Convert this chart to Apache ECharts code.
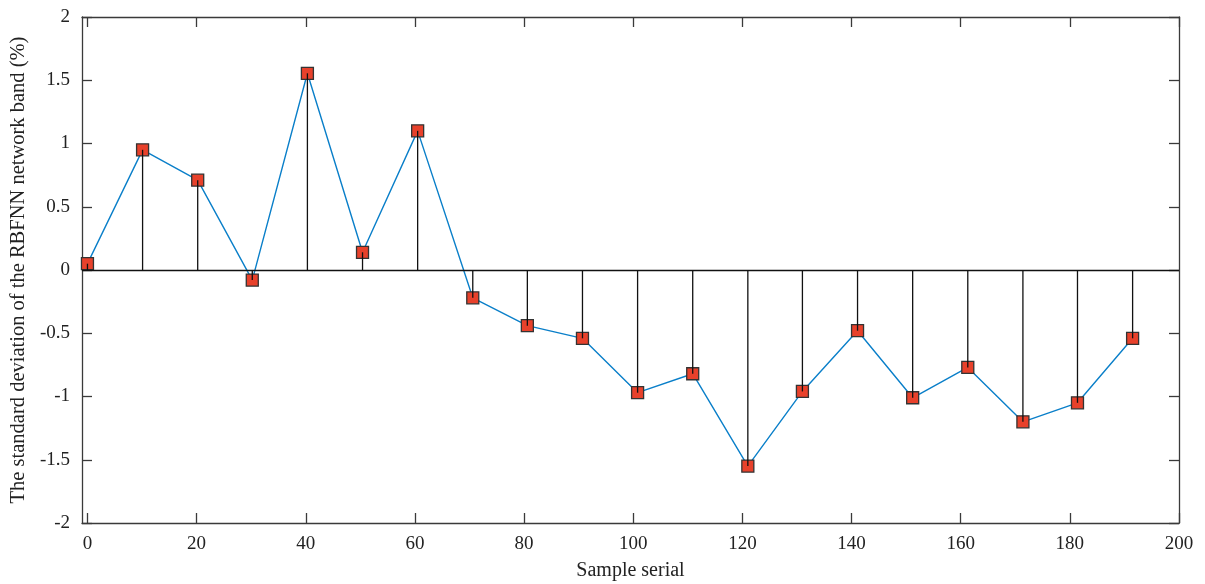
<!DOCTYPE html>
<html>
<head>
<meta charset="utf-8">
<script src="https://cdn.jsdelivr.net/npm/echarts@6/dist/echarts.min.js"></script>
<style>html,body{margin:0;padding:0;background:#fff;}#c{width:1205px;height:584px;}</style>
</head>
<body>
<div id="c"></div>
<script>
const sampleX = [0, 10.1, 20.2, 30.2, 40.3, 50.4, 60.5, 70.6, 80.6, 90.7, 100.8, 110.9, 121.0, 131.0, 141.1, 151.2, 161.3, 171.4, 181.4, 191.5];
const deviation = [0.05, 0.95, 0.71, -0.08, 1.555, 0.14, 1.10, -0.22, -0.44, -0.54, -0.97, -0.82, -1.55, -0.96, -0.48, -1.01, -0.77, -1.20, -1.05, -0.54];
const xTicks = [0, 20, 40, 60, 80, 100, 120, 140, 160, 180, 200];
const yTicks = [-2, -1.5, -1, -0.5, 0, 0.5, 1, 1.5, 2];

const pts = sampleX.map((x, i) => [x, deviation[i]]);
const font = '"Liberation Serif", "DejaVu Serif", serif';
const axisCol = '#3a3a3a';

const chart = echarts.init(document.getElementById('c'), null, {renderer: 'canvas'});
const xBase = {
  type: 'value', min: -1, max: 200,
  axisLine: {show: true, onZero: false, lineStyle: {color: axisCol, width: 1.3}},
  axisTick: {show: true, inside: true, length: 10, customValues: xTicks, lineStyle: {color: axisCol, width: 1.3}},
  splitLine: {show: false}
};
const yBase = {
  type: 'value', min: -2, max: 2, interval: 0.5,
  axisLine: {show: true, onZero: false, lineStyle: {color: axisCol, width: 1.3}},
  axisTick: {show: true, inside: true, length: 10, lineStyle: {color: axisCol, width: 1.3}},
  splitLine: {show: false}
};
chart.setOption({
  animation: false,
  backgroundColor: '#fff',
  grid: {left: 82, right: 26, top: 17, bottom: 61, containLabel: false, outerBoundsMode: 'none'},
  xAxis: [
    Object.assign({}, xBase, {
      position: 'bottom',
      name: 'Sample serial', nameLocation: 'middle', nameGap: 38,
      nameTextStyle: {fontFamily: font, fontSize: 20, color: '#222'},
      axisLabel: {show: true, customValues: xTicks, margin: 12, fontFamily: font, fontSize: 19, color: '#222'}
    }),
    Object.assign({}, xBase, {position: 'top', axisLabel: {show: false}})
  ],
  yAxis: [
    Object.assign({}, yBase, {
      position: 'left',
      name: 'The standard deviation of the RBFNN network band (%)', nameLocation: 'middle', nameGap: 50,
      nameTextStyle: {fontFamily: font, fontSize: 20.5, color: '#222'},
      axisLabel: {show: true, margin: 12, fontFamily: font, fontSize: 19, color: '#222',
        formatter: v => (v < 0 ? '-' + String(-v) : String(v))}
    }),
    Object.assign({}, yBase, {position: 'right', axisLabel: {show: false}})
  ],
  series: [
    {
      type: 'line', data: pts, xAxisIndex: 0, yAxisIndex: 0,
      lineStyle: {color: '#0a7fc9', width: 1.4},
      symbol: 'rect', symbolSize: 12,
      itemStyle: {color: '#e8412b', borderColor: '#333', borderWidth: 1.3},
      z: 2,
      markLine: {
        silent: true, symbol: 'none', label: {show: false},
        lineStyle: {color: '#111', width: 1.3, type: 'solid'},
        data: [{yAxis: 0}]
      }
    },
    {
      type: 'custom', data: pts, xAxisIndex: 0, yAxisIndex: 0, z: 3,
      renderItem: function (params, api) {
        const p0 = api.coord([api.value(0), 0]);
        const p1 = api.coord([api.value(0), api.value(1)]);
        return {type: 'line', shape: {x1: p0[0], y1: p0[1], x2: p1[0], y2: p1[1]},
                style: {stroke: '#111', lineWidth: 1.3}};
      }
    }
  ]
});
</script>
</body>
</html>
